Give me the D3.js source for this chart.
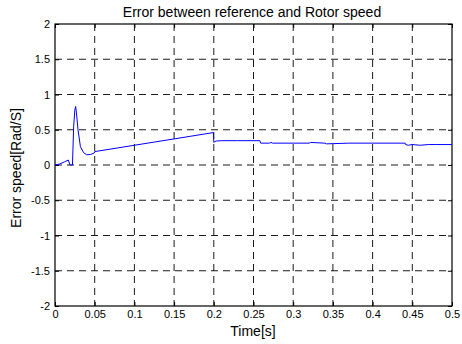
<!DOCTYPE html>
<html>
<head>
<meta charset="utf-8">
<script src="https://cdn.jsdelivr.net/npm/d3@7"></script>
<style>
  body { margin: 0; background: #fff; }
  svg { font-family: "Liberation Sans", Arial, sans-serif; }
  .tick text { font-size: 11px; fill: #000; }
  .grid line { stroke: #000; stroke-dasharray: 7,5; stroke-width: 0.9; }
</style>
</head>
<body>
<svg width="462" height="344"></svg>
<script>
// time (s) and speed error (rad/s)
var times = [0, 0.005, 0.012, 0.0168, 0.019, 0.022, 0.0235, 0.025, 0.026, 0.027, 0.029, 0.032,
  0.036, 0.040, 0.045, 0.0495, 0.05, 0.1, 0.15, 0.1995, 0.2, 0.201, 0.203, 0.21, 0.23, 0.258,
  0.259, 0.27, 0.272, 0.274, 0.3, 0.32, 0.322, 0.34, 0.342, 0.37, 0.4, 0.441, 0.4415, 0.445,
  0.45, 0.46, 0.47, 0.48, 0.5];
var errors = [0, 0.01, 0.045, 0.07, 0.0, 0.0, 0.55, 0.78, 0.83, 0.74, 0.5, 0.26,
  0.175, 0.145, 0.15, 0.17, 0.19, 0.28, 0.37, 0.46, 0.32, 0.33, 0.34, 0.345, 0.345, 0.345,
  0.31, 0.31, 0.32, 0.31, 0.31, 0.31, 0.32, 0.31, 0.30, 0.31, 0.31, 0.31, 0.29, 0.28,
  0.29, 0.28, 0.29, 0.29, 0.29];

var xTicks = [0, 0.05, 0.1, 0.15, 0.2, 0.25, 0.3, 0.35, 0.4, 0.45, 0.5];
var yTicks = [-2, -1.5, -1, -0.5, 0, 0.5, 1, 1.5, 2];

var svg = d3.select('svg');
var plotL = 55, plotR = 452, plotT = 24, plotB = 306;

var x = d3.scaleLinear().domain([0, 0.5]).range([plotL, plotR]);
var y = d3.scaleLinear().domain([-2, 2]).range([plotB, plotT]);

// plain hyphen minus, like the original
var fmt = d => String(d);

// dashed grid
var grid = svg.append('g').attr('class', 'grid');
grid.selectAll('.vx').data(xTicks.slice(1, -1)).enter().append('line')
  .attr('x1', d => x(d)).attr('x2', d => x(d))
  .attr('y1', plotT).attr('y2', plotB);
grid.selectAll('.hy').data(yTicks.slice(1, -1)).enter().append('line')
  .attr('y1', d => y(d)).attr('y2', d => y(d))
  .attr('x1', plotL).attr('x2', plotR);

// axes, ticks pointing inward on all sides
svg.append('g').attr('transform', 'translate(0,' + plotB + ')')
  .call(d3.axisBottom(x).tickValues(xTicks).tickSize(-4).tickPadding(4).tickFormat(fmt))
  .call(g => g.select('.domain').remove());
svg.append('g').attr('transform', 'translate(0,' + plotT + ')')
  .call(d3.axisTop(x).tickValues(xTicks).tickSize(-4).tickFormat(''))
  .call(g => g.select('.domain').remove());
svg.append('g').attr('transform', 'translate(' + plotL + ',0)')
  .call(d3.axisLeft(y).tickValues(yTicks).tickSize(-4).tickPadding(5).tickFormat(fmt))
  .call(g => g.select('.domain').remove());
svg.append('g').attr('transform', 'translate(' + plotR + ',0)')
  .call(d3.axisRight(y).tickValues(yTicks).tickSize(-4).tickFormat(''))
  .call(g => g.select('.domain').remove());
svg.selectAll('.tick line').attr('stroke', '#000');

svg.append('rect')
  .attr('x', plotL).attr('y', plotT)
  .attr('width', plotR - plotL).attr('height', plotB - plotT)
  .attr('fill', 'none').attr('stroke', '#000').attr('stroke-width', 1.2);

// the error curve
var line = d3.line().x((d, i) => x(times[i])).y(d => y(d));
svg.append('path')
  .datum(errors)
  .attr('d', line)
  .attr('fill', 'none')
  .attr('stroke', '#0000ff')
  .attr('stroke-width', 1);

// labels
svg.append('text')
  .attr('x', 252).attr('y', 17)
  .attr('text-anchor', 'middle').style('font-size', '14px')
  .text('Error between reference and Rotor speed');
svg.append('text')
  .attr('x', 253).attr('y', 336)
  .attr('text-anchor', 'middle').style('font-size', '14px')
  .text('Time[s]');
svg.append('text')
  .attr('transform', 'translate(21,168) rotate(-90)')
  .attr('text-anchor', 'middle').style('font-size', '14px')
  .text('Error speed[Rad/S]');
</script>
</body>
</html>
